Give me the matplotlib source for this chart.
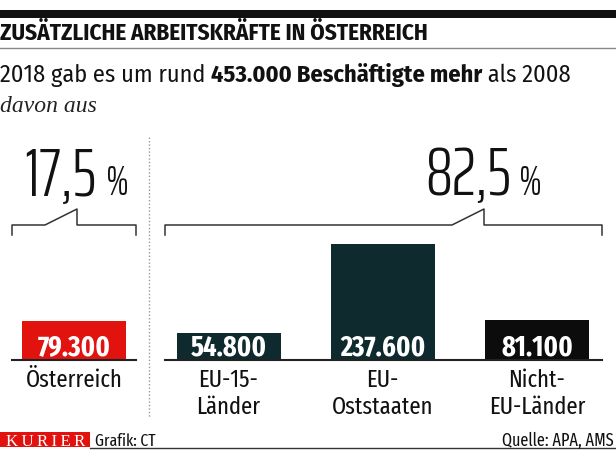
import os
import matplotlib
matplotlib.use("Agg")
import matplotlib.pyplot as plt
from matplotlib import font_manager
from matplotlib.font_manager import FontProperties

# data
cat_line1 = ["Österreich", "EU-15-", "EU-", "Nicht-"]
cat_line2 = ["", "Länder", "Oststaaten", "EU-Länder"]
values = [79300, 54800, 237600, 81100]
value_labels = ["79.300", "54.800", "237.600", "81.100"]
shares = ["17,5", "82,5"]
bar_colors = ["#e2130f", "#0f2a2f", "#0f2a2f", "#0c0c0c"]

font_files = {os.path.basename(f.fname): f.fname for f in font_manager.fontManager.ttflist}


def fp(*cands, size=12, fallback="DejaVu Sans", **kw):
    for c in cands:
        if c in font_files:
            return FontProperties(fname=font_files[c], size=size)
    return FontProperties(family=fallback, size=size, **kw)


def reg(size):
    return fp("FiraSansCondensed-Regular.ttf", size=size)


def bold(size):
    return fp("FiraSansCondensed-Bold.ttf", "FiraSansCondensed-SemiBold.ttf", size=size, weight="bold")


def xreg(size):
    return fp("FiraSansExtraCondensed-Regular.ttf", "FiraSansCondensed-Regular.ttf", size=size)


def xbold(size):
    return fp("FiraSansExtraCondensed-Bold.ttf", "FiraSansCondensed-Bold.ttf", size=size, weight="bold")


def thin(size):
    return fp("SairaExtraCondensed-Light.ttf", "FiraSansExtraCondensed-Light.ttf",
              "FiraSansCondensed-Light.ttf", size=size)


W, H = 616, 450
fig = plt.figure(figsize=(W / 100, H / 100), dpi=100)

# bar axes: bottom edge sits on the baseline at y=360 px
base = 360
px_per_val = 0.000488
bax_h = 140
bax = fig.add_axes([0, (H - base) / H, 1, bax_h / H])
bax.set_xlim(0, W)
bax.set_ylim(0, bax_h / px_per_val)
bax.axis("off")
centers = [74, 228.5, 382.5, 537]
bax.bar(centers, values, width=104, color=bar_colors, align="center")

# overlay in pixel coordinates (y down)
ax = fig.add_axes([0, 0, 1, 1])
ax.set_xlim(0, W)
ax.set_ylim(H, 0)
ax.axis("off")
ax.patch.set_alpha(0)

fig.canvas.draw()
r = fig.canvas.get_renderer()
inv = ax.transData.inverted()


def width_of(t):
    bb = t.get_window_extent(renderer=r)
    return inv.transform((bb.x1, 0))[0] - inv.transform((bb.x0, 0))[0]


def right_of(t):
    bb = t.get_window_extent(renderer=r)
    return inv.transform((bb.x1, 0))[0]


def fitted(t, target):
    s = t.get_fontsize()
    t.set_fontsize(s * target / width_of(t))
    return t.get_fontsize()


# header
ax.fill_between([0, W], 10, 18, color="#111111", lw=0)
t = ax.text(0, 40, "ZUSÄTZLICHE ARBEITSKRÄFTE IN ÖSTERREICH", fontproperties=bold(16),
            color="#111111", va="baseline")
fitted(t, 430)
ax.plot([0, W], [48, 48], color="#888888", lw=1)

parts = [("2018 gab es um rund ", reg), ("453.000 Beschäftigte mehr", bold), (" als 2008", reg)]
probe = []
x = 0
for s, f in parts:
    tt = ax.text(x, 82, s, fontproperties=f(20), color="#111111", va="baseline")
    x = right_of(tt)
    probe.append(tt)
sub_size = 20 * 570 / x
x = 0
for tt in probe:
    tt.set_fontsize(sub_size)
    tt.set_x(x)
    x = right_of(tt)
ax.text(0, 112, "davon aus", family="Liberation Serif", style="italic",
        fontsize=17, color="#222222", va="baseline")

# big percentages
t2 = ax.text(425, 195, shares[1], fontproperties=thin(58), color="#111111", va="baseline")
big = fitted(t2, 86)
t1 = ax.text(24, 195, shares[0], fontproperties=thin(big), color="#111111", va="baseline")
for xp in (106, 519):
    tp = ax.text(xp, 195, "%", fontproperties=thin(32), color="#111111", va="baseline")
    fitted(tp, 23)

# brackets
bc = "#333333"
ax.plot([12, 12, 45, 77, 77, 136, 136], [235, 225, 225, 209, 225, 225, 235],
        color=bc, lw=1.1)
ax.plot([165, 165, 452, 484, 484, 602, 602], [235, 225, 225, 209, 225, 225, 235],
        color=bc, lw=1.1)

# dotted separator
ax.plot([149, 149], [137, 418], color="#999999", lw=1, ls=(0, (1, 1.5)))

# baselines
ax.plot([12, 136], [base, base], color="#222222", lw=1.5)
ax.plot([165, 602], [base, base], color="#222222", lw=1.5)

# value labels and categories
tv = ax.text(0, 0, value_labels[3], fontproperties=xbold(17))
val_size = fitted(tv, 72)
tv.remove()
tc = ax.text(0, 0, cat_line1[0], fontproperties=xreg(17))
cat_size = fitted(tc, 97)
tc.remove()
for c, lab, l1, l2 in zip(centers, value_labels, cat_line1, cat_line2):
    ax.text(c, 355, lab, fontproperties=xbold(val_size), color="white", ha="center", va="baseline")
    ax.text(c, 387, l1, fontproperties=xreg(cat_size), color="#111111", ha="center", va="baseline")
    if l2:
        ax.text(c, 414, l2, fontproperties=xreg(cat_size), color="#111111", ha="center", va="baseline")

# footer
ax.fill_between([0, 90], 432, 447, color="#e2130f", lw=0)
tk = ax.text(6, 446, "K\u2009U\u2009R\u2009I\u2009E\u2009R", family=["Liberation Serif", "DejaVu Serif"],
             fontsize=13, color="white", va="baseline")
fitted(tk, 79)
tg = ax.text(95, 446, "Grafik: CT", fontproperties=xreg(13), color="#111111", va="baseline")
fitted(tg, 61)
tq = ax.text(614, 446, "Quelle: APA, AMS", fontproperties=xreg(13), color="#111111",
             ha="right", va="baseline")
fitted(tq, 112)
ax.plot([90, W], [448, 448], color="#333333", lw=1)

fig.savefig("out.png", dpi=100)
